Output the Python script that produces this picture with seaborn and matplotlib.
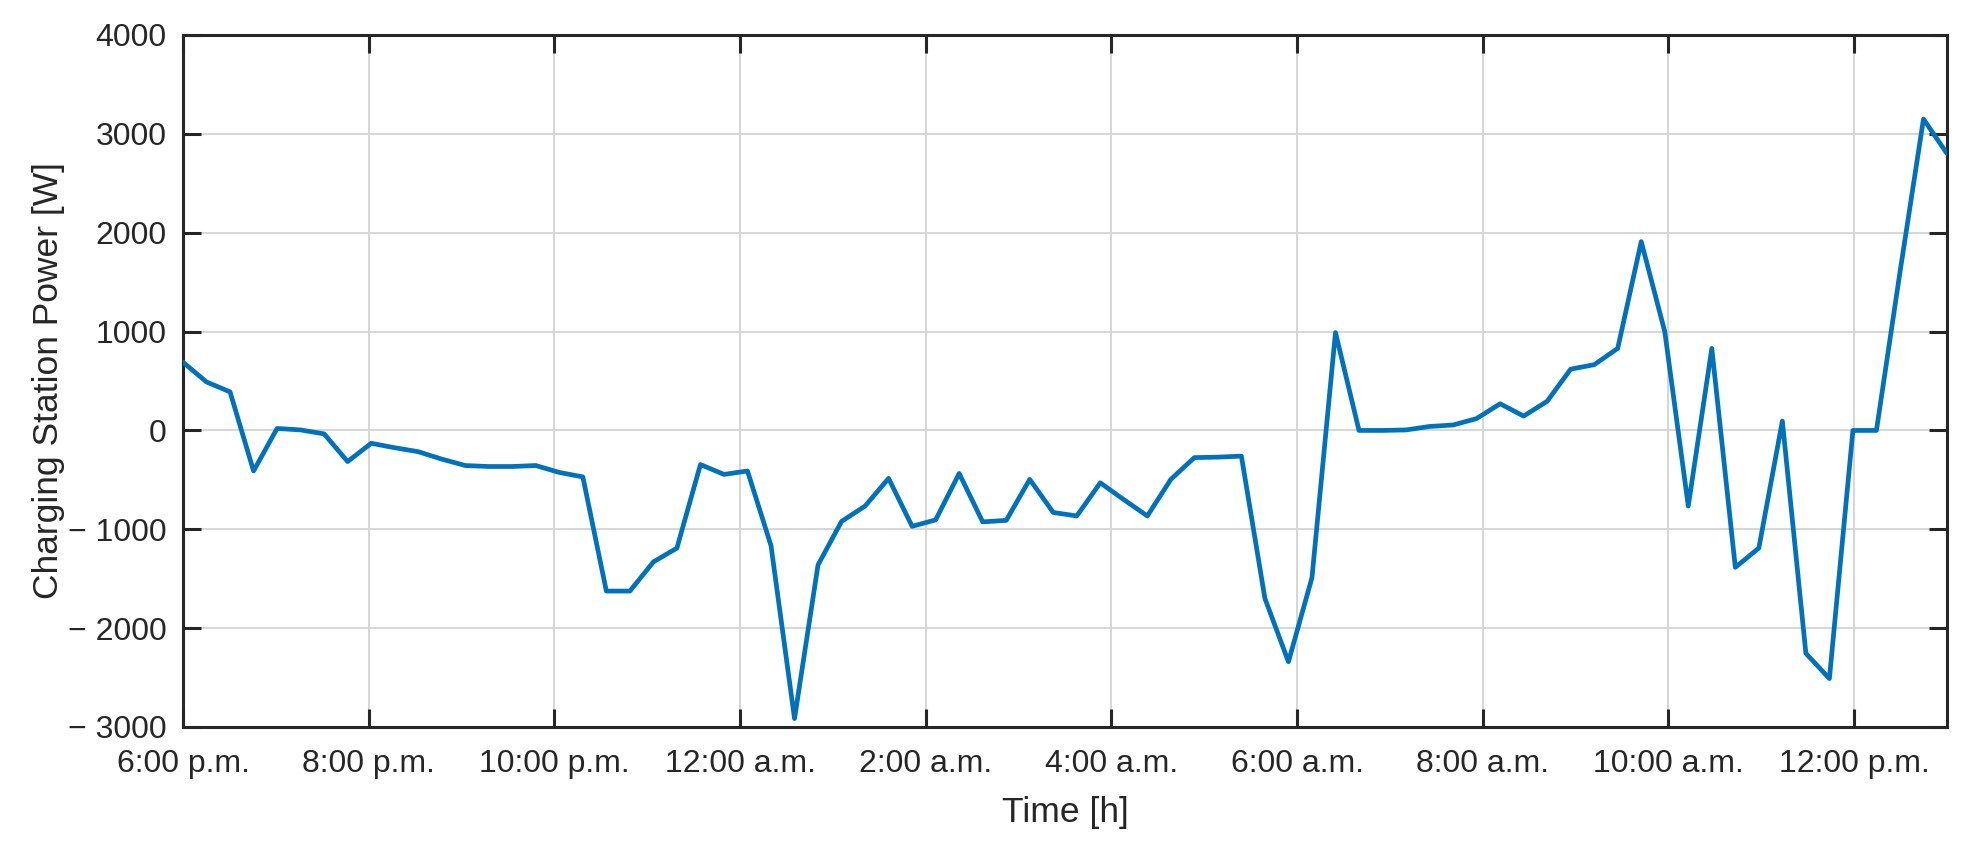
import numpy as np
import pandas as pd
import matplotlib
matplotlib.use("Agg")
import matplotlib.pyplot as plt
import seaborn as sns

# ---- data ----
power_w = [690, 490, 390, -410, 20, 5, -35, -315, -130, -175,
           -215, -290, -355, -365, -365, -355, -425, -470, -1625, -1625,
           -1330, -1190, -345, -445, -410, -1165, -2915, -1360, -920, -765,
           -485, -970, -905, -435, -925, -910, -495, -830, -865, -530,
           -700, -865, -495, -275, -270, -260, -1700, -2340, -1490, 990,
           0, 0, 5, 40, 55, 120, 270, 145, 295, 620,
           665, 830, 1910, 1000, -765, 830, -1385, -1190, 95, -2255,
           -2510, 0, 0, 1600, 3150, 2800]
time_h = np.linspace(0, 19, len(power_w))  # hours after 6:00 p.m.

xtick_pos = [0, 2, 4, 6, 8, 10, 12, 14, 16, 18]
xtick_labels = ["6:00 p.m.", "8:00 p.m.", "10:00 p.m.", "12:00 a.m.", "2:00 a.m.",
                "4:00 a.m.", "6:00 a.m.", "8:00 a.m.", "10:00 a.m.", "12:00 p.m."]
ytick_pos = [-3000, -2000, -1000, 0, 1000, 2000, 3000, 4000]
ytick_labels = ["\u2212 3000", "\u2212 2000", "\u2212 1000", "0", "1000", "2000", "3000", "4000"]

df = pd.DataFrame({"t": time_h, "p": power_w})

sns.set_theme(style="white")
plt.rcParams['font.family'] = ['Liberation Sans', 'DejaVu Sans']
dark = "#262626"

fig = plt.figure(figsize=(19.66, 8.51), dpi=100)
ax = fig.add_axes([183/1966, 1 - 727/851, (1947-183)/1966, (727-35)/851])

sns.lineplot(data=df, x="t", y="p", ax=ax, color="#0072BD", zorder=3)
for ln in ax.lines:
    ln.set_linewidth(3.4)
    ln.set_solid_joinstyle("round")

ax.set_xlim(0, 19)
ax.set_ylim(-3000, 4000)
ax.set_xticks(xtick_pos)
ax.set_xticklabels(xtick_labels)
ax.set_yticks(ytick_pos)
ax.set_yticklabels(ytick_labels)

ax.grid(True, color="#d6d6d6", linewidth=1.4)
ax.set_axisbelow(True)
for s in ax.spines.values():
    s.set_visible(True)
    s.set_color(dark)
    s.set_linewidth(2.2)

ax.tick_params(axis="both", which="major", direction="in", length=13, width=2.2,
               color=dark, labelcolor=dark, labelsize=23,
               top=True, right=True, bottom=True, left=True)
ax.tick_params(axis="x", pad=16)
ax.tick_params(axis="y", pad=12)

ax.set_xlabel("Time [h]", fontsize=25.5, color=dark, labelpad=12)
ax.set_ylabel("Charging Station Power [W]", fontsize=25.5, color=dark, labelpad=2)

fig.savefig("out.png", dpi=100, facecolor="white")
